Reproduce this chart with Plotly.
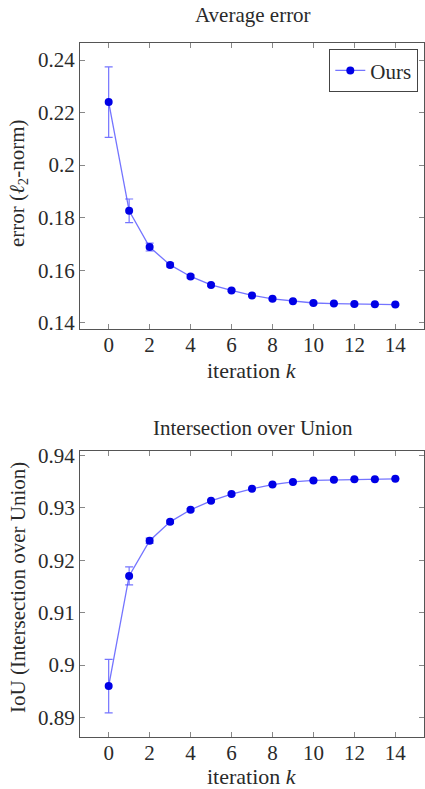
import plotly.graph_objects as go

iterations = list(range(15))
err_mean = [0.2240, 0.1826, 0.1688, 0.1620, 0.1576, 0.1544, 0.1523, 0.1504,
            0.1491, 0.1482, 0.1475, 0.1473, 0.1471, 0.1470, 0.1469]
err_std = [0.0134, 0.0045, 0.0015, 0.0008, 0.0006, 0.0005, 0.0004, 0.0004,
           0.0003, 0.0003, 0.0003, 0.0003, 0.0003, 0.0003, 0.0003]
iou_mean = [0.8960, 0.9170, 0.9237, 0.9273, 0.9296, 0.9313, 0.9326, 0.9336,
            0.9344, 0.9349, 0.9352, 0.9353, 0.9354, 0.9354, 0.9355]
iou_std = [0.0051, 0.0017, 0.0005, 0.0003, 0.0002, 0.0002, 0.0002, 0.0001,
           0.0001, 0.0001, 0.0001, 0.0001, 0.0001, 0.0001, 0.0001]
x_ticks = [0, 2, 4, 6, 8, 10, 12, 14]
err_ticks = [0.14, 0.16, 0.18, 0.2, 0.22, 0.24]
iou_ticks = [0.89, 0.9, 0.91, 0.92, 0.93, 0.94]

FONT = "Liberation Serif, Times New Roman, serif"
TXT = "#2a2a2a"
LINE_C = "rgba(70,70,255,0.75)"
MARK_C = "rgb(0,0,230)"

W, H = 425, 789
L, R, T, B = 80, 1, 43, 52
PH = H - T - B
PW = W - L - R

def py(pix):
    return (H - B - pix) / PH

def px(pix):
    return (pix - L) / PW

fig = go.Figure()
fig.add_trace(go.Scatter(
    x=iterations, y=err_mean, name="Ours", mode="lines+markers",
    line=dict(color=LINE_C, width=1.3),
    marker=dict(color=MARK_C, size=8, symbol="circle"),
    error_y=dict(type="data", array=err_std, visible=True, color=LINE_C,
                 thickness=1.2, width=4),
    xaxis="x", yaxis="y", showlegend=True))
fig.add_trace(go.Scatter(
    x=iterations, y=iou_mean, name="Ours", mode="lines+markers",
    line=dict(color=LINE_C, width=1.3),
    marker=dict(color=MARK_C, size=8, symbol="circle"),
    error_y=dict(type="data", array=iou_std, visible=True, color=LINE_C,
                 thickness=1.2, width=4),
    xaxis="x2", yaxis="y2", showlegend=False))

axis_common = dict(
    showgrid=False, zeroline=False, showline=True, linecolor="#555",
    linewidth=1.3, mirror="allticks", ticks="inside", ticklen=5,
    tickcolor="#888", tickwidth=1,
    tickfont=dict(family=FONT, size=21, color=TXT),
)

top_dom = [py(329), 1.0]
bot_dom = [0.0, py(451)]

fig.update_layout(
    width=W, height=H,
    margin=dict(l=L, r=R, t=T, b=B, pad=0),
    paper_bgcolor="white", plot_bgcolor="white",
    font=dict(family=FONT, color=TXT),
    xaxis=dict(axis_common, domain=[0, 1], range=[-1.4, 15.4],
               tickvals=x_ticks, anchor="y", ticklabelstandoff=-3),
    yaxis=dict(axis_common, domain=top_dom, range=[0.1376, 0.2465],
               tickvals=err_ticks, anchor="x"),
    xaxis2=dict(axis_common, domain=[0, 1], range=[-1.4, 15.4],
                tickvals=x_ticks, anchor="y2", ticklabelstandoff=-3),
    yaxis2=dict(axis_common, domain=bot_dom, range=[0.8863, 0.9408],
                tickvals=iou_ticks, anchor="x2"),
    legend=dict(x=px(418), y=py(49), xanchor="right", yanchor="top",
                bordercolor="#444", borderwidth=1.3, bgcolor="white",
                font=dict(family=FONT, size=21, color=TXT),
                itemwidth=30, tracegroupgap=0),
)

ann = dict(xref="paper", yref="paper", showarrow=False,
           font=dict(family=FONT, size=21, color=TXT))
fig.add_annotation(ann, x=px(253), y=py(15), text="Average error",
                   xanchor="center", yanchor="middle")
fig.add_annotation(ann, x=px(253), y=py(428), text="Intersection over Union",
                   xanchor="center", yanchor="middle")
ann_x = dict(ann, font=dict(family=FONT, size=22, color=TXT))
fig.add_annotation(ann_x, x=px(252), y=py(370), text="iteration <i>k</i>",
                   xanchor="center", yanchor="middle")
fig.add_annotation(ann_x, x=px(252), y=py(777), text="iteration <i>k</i>",
                   xanchor="center", yanchor="middle")
fig.add_annotation(ann, x=px(18), y=py(184),
                   text="error (<i>ℓ</i><sub>2</sub>-norm)",
                   textangle=-90, xanchor="center", yanchor="middle")
fig.add_annotation(ann, x=px(18), y=py(588),
                   text="IoU (Intersection over Union)",
                   textangle=-90, xanchor="center", yanchor="middle")

fig.write_html("out.html")
